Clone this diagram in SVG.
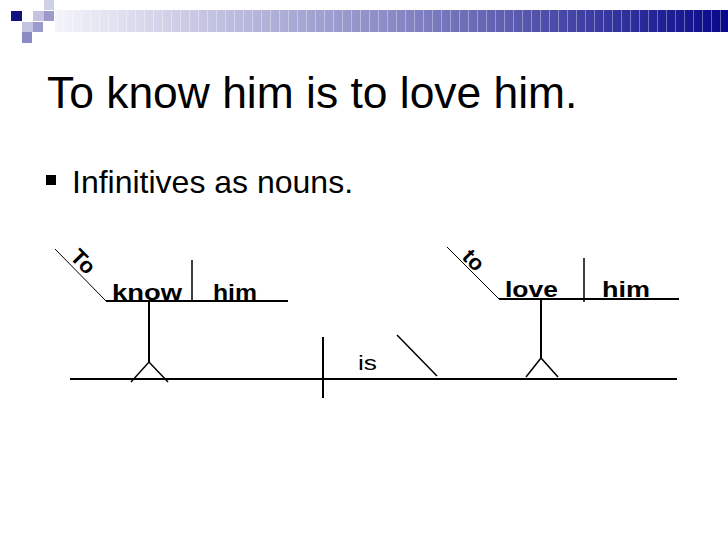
<svg xmlns="http://www.w3.org/2000/svg" width="728" height="546" viewBox="0 0 728 546">
  <defs>
    <linearGradient id="barGrad" x1="55" y1="0" x2="728" y2="0" gradientUnits="userSpaceOnUse">
      <stop offset="0" stop-color="#f4f4fa"/>
      <stop offset="0.5" stop-color="#8a8ac6"/>
      <stop offset="1" stop-color="#08088a"/>
    </linearGradient>
    <pattern id="stripes" x="0" y="0" width="9" height="30" patternUnits="userSpaceOnUse">
      <rect x="0" y="0" width="1" height="30" fill="#ffffff" opacity="0.35"/>
    </pattern>
    <style>
      .ln { stroke: #000; fill: none; }
      .thin { stroke-width: 1; }
      .mid { stroke-width: 1.5; }
      .thick { stroke-width: 2; }
      .word { font-family: "Liberation Sans", Arial, sans-serif; font-weight: bold; font-size: 22px; fill: #000; }
      .reg { font-family: "Liberation Sans", Arial, sans-serif; fill: #000; }
    </style>
  </defs>
  <rect width="728" height="546" fill="#fff"/>

  <g id="header">
    <rect x="55" y="10" width="673" height="22" fill="url(#barGrad)"/>
    <rect x="55" y="10" width="673" height="22" fill="url(#stripes)"/>
    <rect x="11" y="11" width="11" height="10" fill="#12127e"/>
    <rect x="44" y="0" width="10" height="10" fill="#cfcfe6"/>
    <rect x="33" y="11" width="11" height="10" fill="#c4c4e2"/>
    <rect x="44" y="11" width="10" height="10" fill="#9a9acd"/>
    <rect x="22" y="22" width="11" height="10" fill="#c4c4e2"/>
    <rect x="33" y="22" width="10" height="10" fill="#9a9acd"/>
    <rect x="22" y="32" width="10" height="11" fill="#8a8ac5"/>
  </g>

  <g id="title">
    <text class="reg" x="47" y="108" font-size="44.4">To know him is to love him.</text>
  </g>

  <g id="bullet">
    <rect x="46" y="175" width="10" height="10" fill="#000"/>
    <text class="reg" x="72" y="193" font-size="32">Infinitives as nouns.</text>
  </g>

  <g id="connectors">
    <line class="ln thin" x1="55" y1="249" x2="106" y2="301"/>
    <line class="ln thick" x1="106" y1="301" x2="288" y2="301"/>
    <line class="ln mid" x1="192" y1="260" x2="192" y2="302"/>
    <line class="ln thick" x1="149" y1="302" x2="149" y2="362"/>
    <polyline class="ln mid" points="131,382 149,362 168,382"/>
    <line class="ln thick" x1="70" y1="379" x2="677" y2="379"/>
    <line class="ln thick" x1="323" y1="337" x2="323" y2="398"/>
    <line class="ln mid" x1="397" y1="335" x2="437" y2="376"/>
    <line class="ln thin" x1="447" y1="247" x2="499" y2="299"/>
    <line class="ln thick" x1="499" y1="299" x2="679" y2="299"/>
    <line class="ln mid" x1="584" y1="258" x2="584" y2="302"/>
    <line class="ln thick" x1="541" y1="299" x2="541" y2="358"/>
    <polyline class="ln mid" points="526,377 541,358 558,377"/>
  </g>

  <g id="node-To">
    <text class="word" transform="translate(69,258) rotate(45)">To</text>
  </g>
  <g id="node-know">
    <text class="word" x="112" y="300" textLength="70" lengthAdjust="spacingAndGlyphs">know</text>
  </g>
  <g id="node-him1">
    <text class="word" x="213" y="300" textLength="44" lengthAdjust="spacingAndGlyphs">him</text>
  </g>
  <g id="node-is">
    <text class="reg" x="358" y="370" font-size="20" textLength="19" lengthAdjust="spacingAndGlyphs">is</text>
  </g>
  <g id="node-to">
    <text class="word" transform="translate(461,258) rotate(45)">to</text>
  </g>
  <g id="node-love">
    <text class="word" x="505" y="297" textLength="53" lengthAdjust="spacingAndGlyphs">love</text>
  </g>
  <g id="node-him2">
    <text class="word" x="602" y="297" textLength="48" lengthAdjust="spacingAndGlyphs">him</text>
  </g>
</svg>
